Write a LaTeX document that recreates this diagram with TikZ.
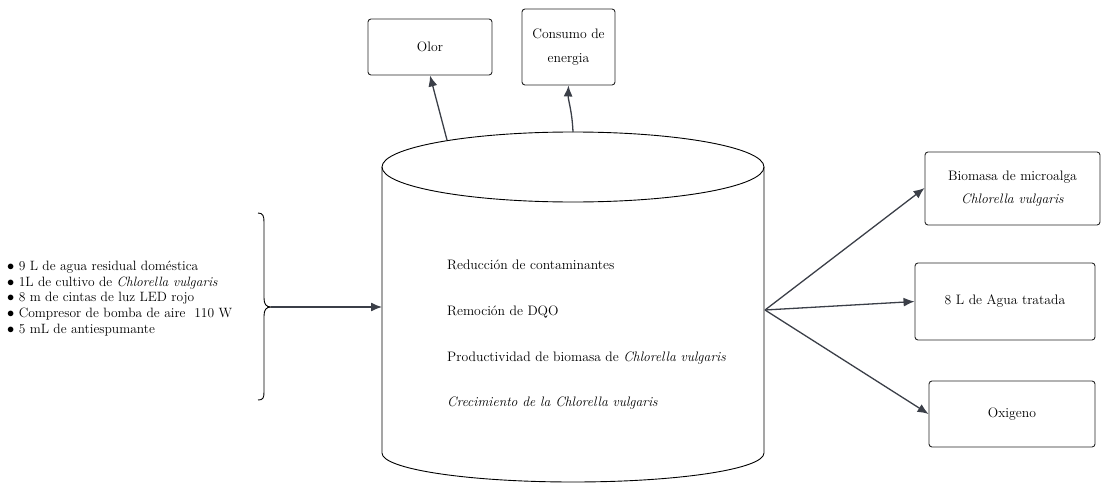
\documentclass[tikz,border=0pt]{standalone}
\usetikzlibrary{arrows.meta}
\definecolor{arr}{HTML}{3B3F48}
\begin{document}
\begin{tikzpicture}[x=1pt,y=-1pt,
  box/.style={draw=black!85,line width=0.9pt,rounded corners=3pt,align=center,inner sep=0pt},
  conn/.style={draw=arr,line width=1.3pt,-{Latex[length=11pt,width=9pt]}},
  txt/.style={anchor=west,inner sep=0pt,font=\fontsize{13.7}{16}\selectfont},
  lbl/.style={font=\fontsize{13.7}{23.5}\selectfont}]
\useasboundingbox (0,0) rectangle (1105,484);
% cylinder
\draw[line width=0.9pt] (573,167) ellipse [x radius=191, y radius=35];
\draw[line width=0.9pt] (382,167) -- (382,453) arc[start angle=180,end angle=0,x radius=191,y radius=29] -- (764,167);
\coordinate (cylL) at (382,307);
\coordinate (cylR) at (765,310);
\coordinate (cylT1) at (447,140);
\coordinate (cylT2) at (573,132);
% texts in cylinder
\node[txt] (t1) at (447,265) {Reducción de contaminantes};
\node[txt] (t2) at (447,312) {Remoción de DQO};
\node[txt] (t3) at (447,358) {Productividad de biomasa de \textit{Chlorella vulgaris}};
\node[txt] (t4) at (447,403) {\textit{Crecimiento de la Chlorella vulgaris}};
% top boxes
\node[box,lbl,minimum width=124pt,minimum height=56pt] (olor) at (430,47) {Olor};
\node[box,lbl,minimum width=93pt,minimum height=76pt] (cons) at (568.5,47) {Consumo de\\energia};
% right boxes
\node[box,lbl,minimum width=175pt,minimum height=73pt] (bio) at (1012.5,188.5) {Biomasa de microalga\\\textit{Chlorella vulgaris}};
\node[box,lbl,minimum width=180pt,minimum height=77pt] (agua) at (1005,301.5) {8 L de Agua tratada};
\node[box,lbl,minimum width=166pt,minimum height=66pt] (oxi) at (1012,414) {Oxigeno};
% input list
\node[anchor=north west,align=left,inner sep=0pt,font=\fontsize{13.5}{15.6}\selectfont] (list) at (7,261) {%
$\bullet$ 9 L de agua residual doméstica\\
$\bullet$ 1L de cultivo de \textit{Chlorella vulgaris}\\
$\bullet$ 8 m de cintas de luz LED rojo\\
$\bullet$ Compresor de bomba de aire~~110 W\\
$\bullet$ 5 mL de antiespumante};
% brace
\draw[line width=0.9pt] (258,213) .. controls (263,213) and (264,216) .. (264,222) -- (264,298) .. controls (264,304) and (266,307) .. (271,307) .. controls (266,307) and (264,310) .. (264,316) -- (264,392) .. controls (264,398) and (263,400) .. (258,400);
\coordinate (brace) at (271,307);
% connectors
\draw[conn] (brace) -- (cylL);
\draw[conn] (cylT1) -- (olor.south);
\draw[conn] (cylT2) .. controls (572,110) and (568,100) .. (cons.south);
\draw[conn] (cylR) -- (bio.west|-0,188);
\draw[conn] (cylR) -- (agua.west);
\draw[conn] (cylR) -- (oxi.west);
\end{tikzpicture}
\end{document}
